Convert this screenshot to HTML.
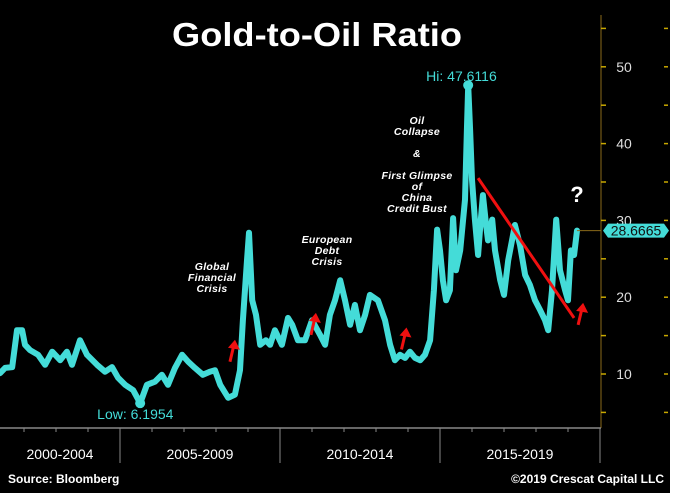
<!DOCTYPE html>
<html><head><meta charset="utf-8"><style>
html,body{margin:0;padding:0;background:#fff;width:680px;height:499px;overflow:hidden}
svg{display:block;font-family:"Liberation Sans",sans-serif}
.ann{font-style:italic;font-weight:bold;font-size:10.5px;fill:#fff;letter-spacing:0.3px}
</style></head><body>
<svg width="680" height="499" viewBox="0 0 680 499">
<rect x="0" y="0" width="670" height="493" fill="#000"/>
<text x="317" y="46" text-anchor="middle" font-weight="bold" font-size="33" fill="#fff" textLength="290" lengthAdjust="spacingAndGlyphs">Gold-to-Oil Ratio</text>
<g id="axes"></g>
<g id="plot"></g>
<text class="ann" x="212" y="270" text-anchor="middle"><tspan x="212">Global</tspan><tspan x="212" dy="11">Financial</tspan><tspan x="212" dy="11">Crisis</tspan></text>
<text class="ann" x="327" y="243" text-anchor="middle"><tspan x="327">European</tspan><tspan x="327" dy="11">Debt</tspan><tspan x="327" dy="11">Crisis</tspan></text>
<text class="ann" x="417" y="124" text-anchor="middle"><tspan x="417">Oil</tspan><tspan x="417" dy="11">Collapse</tspan><tspan x="417" dy="22">&amp;</tspan><tspan x="417" dy="22">First Glimpse</tspan><tspan x="417" dy="11">of</tspan><tspan x="417" dy="11">China</tspan><tspan x="417" dy="11">Credit Bust</tspan></text>
<text x="577" y="202" text-anchor="middle" font-weight="bold" font-size="22" fill="#fff">?</text>
<text x="8" y="483" font-weight="bold" font-size="12" fill="#fff">Source: Bloomberg</text>
<text x="664" y="483" text-anchor="end" font-weight="bold" font-size="12" fill="#fff">©2019 Crescat Capital LLC</text>
</svg>
<script>
const years=[2001.25,2001.41,2001.63,2001.78,2001.94,2002.03,2002.19,2002.44,2002.66,2002.88,2003.13,2003.34,2003.5,2003.75,2003.97,2004.28,2004.53,2004.75,2004.94,2005.16,2005.41,2005.63,2005.84,2006.09,2006.31,2006.5,2006.72,2006.94,2007.13,2007.34,2007.59,2007.81,2007.97,2008.13,2008.38,2008.59,2008.75,2008.84,2008.97,2009.03,2009.13,2009.25,2009.38,2009.56,2009.69,2009.84,2010.06,2010.25,2010.38,2010.56,2010.78,2011.0,2011.25,2011.41,2011.56,2011.72,2011.88,2012.03,2012.19,2012.34,2012.5,2012.66,2012.81,2013.06,2013.28,2013.44,2013.59,2013.75,2013.91,2014.06,2014.22,2014.38,2014.53,2014.69,2014.81,2014.91,2015.0,2015.09,2015.19,2015.31,2015.41,2015.5,2015.63,2015.78,2015.84,2015.88,2015.94,2016.0,2016.09,2016.19,2016.25,2016.34,2016.44,2016.5,2016.63,2016.72,2016.88,2017.0,2017.13,2017.25,2017.34,2017.5,2017.66,2017.81,2017.97,2018.13,2018.28,2018.38,2018.5,2018.63,2018.75,2018.91,2019.0,2019.09,2019.19,2019.28];
const ratio=[10.1,10.8,10.9,15.7,15.7,13.8,13.1,12.5,11.2,12.9,11.8,12.9,11.2,14.4,12.5,11.2,10.3,10.9,9.5,8.6,7.9,6.2,8.6,9.0,9.9,8.6,10.8,12.5,11.6,10.8,9.9,10.3,10.5,8.6,6.9,7.3,10.5,17.0,24.8,28.4,19.6,17.7,13.8,14.4,13.8,15.7,13.8,17.3,16.4,14.4,14.4,17.0,15.1,13.8,17.7,19.6,22.2,19.6,16.4,19.0,15.7,17.7,20.3,19.6,17.0,13.8,11.8,12.5,12.1,12.9,12.1,11.8,12.5,14.4,20.9,28.8,26.1,22.2,19.6,20.9,30.3,23.5,26.1,32.7,41.8,47.6,41.8,35.3,30.1,25.5,28.8,33.3,29.4,27.4,30.1,26.1,22.2,20.3,24.8,27.4,29.4,26.8,22.9,21.6,19.6,18.3,17.0,15.7,20.9,30.1,23.5,20.9,19.6,26.1,25.5,28.67];
const yTicks=[10,20,30,40,50];
const periodLabels=["2000-2004","2005-2009","2010-2014","2015-2019"];
const lowValue="6.1954", hiValue="47.6116", lastValue="28.6665";
const trendStart=[2016.19,35.5], trendEnd=[2019.19,17.3];
const arrowYears=[2008.53,2011.06,2013.89,2019.41];
const arrowVals=[14.2,17.7,15.8,19.0];

const NS="http://www.w3.org/2000/svg";
const xs=y=>120+(y-2005)*32;
const ys=v=>374-(v-10)*7.68;
function mk(tag,attrs,parent,text){const e=document.createElementNS(NS,tag);for(const k in attrs)e.setAttribute(k,attrs[k]);if(text!==undefined)e.textContent=text;parent.appendChild(e);return e;}
const axes=document.getElementById('axes'), plot=document.getElementById('plot');

let e=mk('line',{x1:601,y1:15,x2:601,y2:428,stroke:'#8a6a1a','stroke-width':1},axes);


for(let v=5;v<=55;v+=5){
  const y=ys(v);
  e=mk('line',{x1:601,y1:y,x2:606,y2:y,stroke:'#c8a800','stroke-width':1.5},axes);
  
  
  e=mk('line',{x1:664,y1:y,x2:668,y2:y,stroke:'#c8a800','stroke-width':1.5},axes);
  
  
}
yTicks.forEach(v=>{
  e=mk('text',{x:624,y:ys(v)+5,fill:'#ddd','font-size':14,'text-anchor':'middle'},axes,String(v));
  
  
});
e=mk('line',{x1:0,y1:428,x2:601,y2:428,stroke:'#888','stroke-width':1.5},axes);


for(let yr=2001;yr<=2020;yr++){
  const x=xs(yr);
  if(x<0)continue;
  const major=(yr%5===0);
  e=mk('line',{x1:x,y1:428,x2:x,y2:major?463:432,stroke:'#888','stroke-width':1},axes);
  
  
}
periodLabels.forEach((t,i)=>{
  const cx=i===0?60:xs(2005+5*(i-1)+2.5);
  e=mk('text',{x:cx,y:459,fill:'#fff','font-size':14,'text-anchor':'middle'},axes,t);
  
  
});

const pts=years.map((y,i)=>xs(y).toFixed(1)+','+ys(ratio[i]).toFixed(1)).join(' ');
e=mk('polyline',{points:pts,fill:'none',stroke:'#44dcd8','stroke-width':6,'stroke-linejoin':'round','stroke-linecap':'round'},plot);



let li=ratio.indexOf(Math.min(...ratio)), hi=ratio.indexOf(Math.max(...ratio)), last=ratio.length-1;
e=mk('circle',{cx:xs(years[li]),cy:ys(ratio[li]),r:5,fill:'#44dcd8'},plot);


e=mk('text',{x:xs(years[li])-43,y:ys(ratio[li])+16,fill:'#44dcd8','font-size':14},plot,'Low: '+lowValue);


e=mk('circle',{cx:xs(years[hi]),cy:ys(ratio[hi]),r:5,fill:'#44dcd8'},plot);


e=mk('text',{x:xs(years[hi])-42,y:ys(ratio[hi])-4,fill:'#44dcd8','font-size':14},plot,'Hi: '+hiValue);



const ly=ys(ratio[last]);
e=mk('line',{x1:xs(years[last]),y1:ly,x2:601,y2:ly,stroke:'#8a6a1a','stroke-width':1},plot);


e=mk('polygon',{points:`603,${ly} 608,${ly-7} 664,${ly-7} 669,${ly} 664,${ly+7} 608,${ly+7}`,fill:'#44dcd8'},plot);


e=mk('text',{x:636,y:ly+5,fill:'#111','font-size':14,'text-anchor':'middle'},plot,lastValue);



e=mk('line',{x1:xs(trendStart[0]),y1:ys(trendStart[1]),x2:xs(trendEnd[0]),y2:ys(trendEnd[1]),stroke:'#f01010','stroke-width':3},plot);


arrowYears.forEach((yr,i)=>{
  const x=xs(yr), y=ys(arrowVals[i]);
  const g=mk('g',{},plot);
  
  
  mk('line',{x1:x-3,y1:y+20,x2:x+1,y2:y+3,stroke:'#f01010','stroke-width':3},g);
  mk('polygon',{points:`${x+2},${y-2} ${x-5},${y+6} ${x+7},${y+8}`,fill:'#f01010'},g);
});
</script>
</body></html>
